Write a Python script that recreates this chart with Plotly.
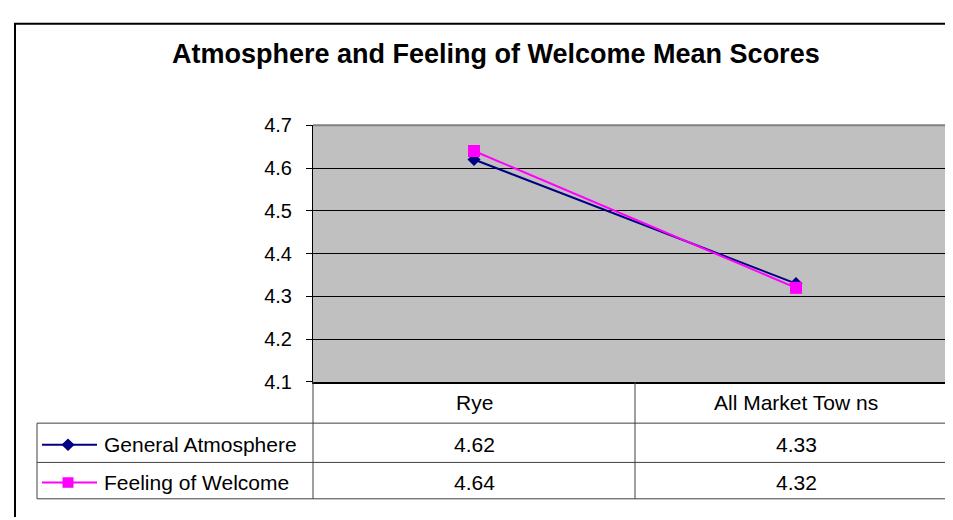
import plotly.graph_objects as go

# ---- data ----
categories = ["Rye", "All Market Tow ns"]
series_names = ["General Atmosphere", "Feeling of Welcome"]
general_atmosphere = [4.62, 4.33]
feeling_of_welcome = [4.64, 4.32]
y_ticks = [4.1, 4.2, 4.3, 4.4, 4.5, 4.6, 4.7]
title_text = "Atmosphere and Feeling of Welcome Mean Scores"

# ---- layout constants (pixels) ----
W, H = 953, 520
PX0, PX1 = 305, 949   # plot area x
PY0, PY1 = 111, 379   # plot area y (top, bottom)
HDR_B = 422           # category header bottom
ROW_B = [463, 501]    # row bottoms
TBL_L = 29
FONT = "Liberation Sans, Arial, sans-serif"
NAVY = "#000080"
MAGENTA = "#FF00FF"
GRID = "#000000"
TBL_LINE = "#404040"


def px(x):
    return x / W


def py(y):
    return 1 - y / H


fig = go.Figure()
colors = [NAVY, MAGENTA]
symbols = ["diamond", "square"]
sizes = [10, 12]
values = [general_atmosphere, feeling_of_welcome]
for name, vals, c, s, sz in zip(series_names, values, colors, symbols, sizes):
    fig.add_trace(go.Scatter(
        x=categories, y=vals, name=name, mode="lines+markers",
        line=dict(color=c, width=2),
        marker=dict(symbol=s, size=sz, color=c, line=dict(width=0)),
        showlegend=False, cliponaxis=False,
    ))

shapes = []
annotations = []


def hline(x0, x1, y, color=TBL_LINE, width=1):
    shapes.append(dict(type="line", xref="paper", yref="paper",
                       x0=px(x0), x1=px(x1), y0=py(y), y1=py(y),
                       line=dict(color=color, width=width), layer="above"))


def vline(x, y0, y1, color=TBL_LINE, width=1):
    shapes.append(dict(type="line", xref="paper", yref="paper",
                       x0=px(x), x1=px(x), y0=py(y0), y1=py(y1),
                       line=dict(color=color, width=width), layer="above"))


# outer chart frame (top and left visible)
hline(6, W, 5, color="#000000", width=2)
vline(7, 5, H, color="#000000", width=2)

# plot area gray border (top & right)
hline(PX0, PX1, PY0, color="#808080", width=2)
vline(PX1, PY0, ROW_B[-1], color="#808080", width=2)

# data table lines
ncat = len(categories)
colw = (PX1 - PX0) / ncat
for i in range(ncat):
    vline(PX0 + i * colw, PY1, ROW_B[-1])
hline(TBL_L, PX1, HDR_B)
for yb in ROW_B:
    hline(TBL_L, PX1, yb)
vline(TBL_L, HDR_B, ROW_B[-1])

# category header
for i, cat in enumerate(categories):
    annotations.append(dict(x=px(PX0 + (i + 0.5) * colw), y=py((PY1 + HDR_B) / 2),
                            xref="paper", yref="paper", text=cat, showarrow=False,
                            font=dict(family=FONT, size=21, color="#000000"),
                            xanchor="center", yanchor="middle"))

# rows
row_tops = [HDR_B] + ROW_B[:-1]
for r, (name, vals, c, s) in enumerate(zip(series_names, values, colors, symbols)):
    yc = (row_tops[r] + ROW_B[r]) / 2 + 2
    for i, v in enumerate(vals):
        annotations.append(dict(x=px(PX0 + (i + 0.5) * colw), y=py(yc),
                                xref="paper", yref="paper", text=f"{v:.2f}",
                                showarrow=False,
                                font=dict(family=FONT, size=21, color="#000000"),
                                xanchor="center", yanchor="middle"))
    annotations.append(dict(x=px(96), y=py(yc), xref="paper", yref="paper",
                            text=name, showarrow=False,
                            font=dict(family=FONT, size=21, color="#000000"),
                            xanchor="left", yanchor="middle", xshift=-2))
    # legend key line
    shapes.append(dict(type="line", xref="paper", yref="paper",
                       x0=px(34), x1=px(89), y0=py(yc), y1=py(yc),
                       line=dict(color=c, width=2), layer="above"))
    mx = 60
    if s == "diamond":
        d = 6.5
        path = (f"M {px(mx - d)},{py(yc)} L {px(mx)},{py(yc - d)} "
                f"L {px(mx + d)},{py(yc)} L {px(mx)},{py(yc + d)} Z")
        shapes.append(dict(type="path", xref="paper", yref="paper", path=path,
                           fillcolor=c, line=dict(width=0), layer="above"))
    else:
        d = 5.5
        shapes.append(dict(type="rect", xref="paper", yref="paper",
                           x0=px(mx - d), x1=px(mx + d), y0=py(yc - d), y1=py(yc + d),
                           fillcolor=c, line=dict(width=0), layer="above"))

# title
annotations.append(dict(x=px(488), y=py(37), xref="paper", yref="paper",
                        text=f"<b>{title_text}</b>", showarrow=False,
                        font=dict(family=FONT, size=27, color="#000000"),
                        xanchor="center", yanchor="middle"))

fig.update_layout(
    width=W, height=H, autosize=False,
    margin=dict(l=0, r=0, t=0, b=0, pad=0),
    paper_bgcolor="#FFFFFF", plot_bgcolor="#C0C0C0",
    showlegend=False,
    shapes=shapes, annotations=annotations,
    xaxis=dict(domain=[px(PX0), px(PX1)], type="category", range=[-0.5, ncat - 0.5],
               showticklabels=False, ticks="", showgrid=False, zeroline=False,
               showline=True, linecolor="#000000", linewidth=2, fixedrange=True),
    yaxis=dict(domain=[py(PY1), py(PY0)], range=[y_ticks[0], y_ticks[-1]],
               tickvals=y_ticks, ticktext=[f"{t:.1f}" for t in y_ticks],
               ticks="outside", ticklen=6, tickcolor="#000000", tickwidth=1,
               showgrid=True, gridcolor=GRID, gridwidth=1, zeroline=False,
               showline=True, linecolor="#000000", linewidth=1,
               tickfont=dict(family=FONT, size=20, color="#000000"),
               ticklabelstandoff=10, fixedrange=True),
)

fig.write_html("out.html")
